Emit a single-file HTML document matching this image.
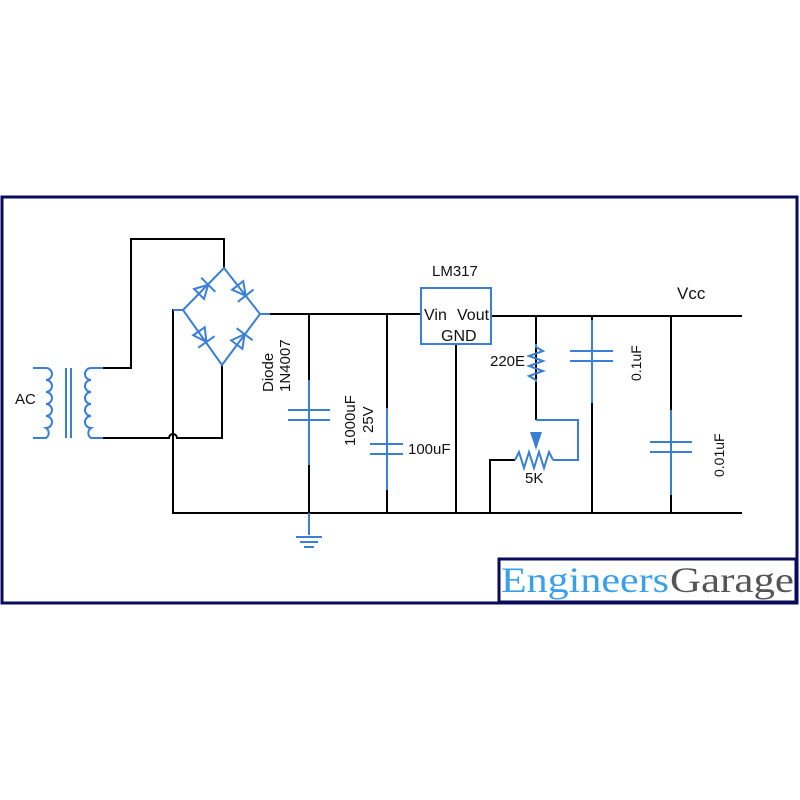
<!DOCTYPE html>
<html><head><meta charset="utf-8"><style>body{margin:0;background:#fff}svg{display:block}</style></head><body>
<svg width="800" height="800" viewBox="0 0 800 800" xmlns="http://www.w3.org/2000/svg" font-family="Liberation Sans, sans-serif">
<rect x="2" y="197" width="795" height="406" fill="none" stroke="#0a0a5a" stroke-width="3"/>
<g fill="none" stroke="#000" stroke-width="2">
<path d="M103 368H131V239H224V268"/>
<path d="M103 438H169A4 4 0 0 1 177 438H222V365"/>
<path d="M183 310H173V513H742"/>
<path d="M260 314H421"/>
<path d="M491 316H742"/>
<path d="M309 314V513"/><path d="M309 513V535"/>
<path d="M387 314V513"/>
<path d="M456 344V513"/>
<path d="M536 316V420"/>
<path d="M515 460H490V513"/>
<path d="M592 316V513"/>
<path d="M671 316V513"/>
</g>
<g fill="none" stroke="#3a7fd6" stroke-width="2">
<path d="M33 368H46a6 6 0 0 1 0 12a6 6 0 0 1 0 12a6 6 0 0 1 0 12a6 6 0 0 1 0 12a6 6 0 0 1 0 12a6 6 0 0 1 0 10H33"/>
<path d="M103 368H91a6 6 0 0 0 0 12a6 6 0 0 0 0 12a6 6 0 0 0 0 12a6 6 0 0 0 0 12a6 6 0 0 0 0 12a6 6 0 0 0 0 10H103"/>
<path d="M66 368V438M71 368V438"/>
<path d="M224 268L183 310L222 365L260 314Z"/>
<g transform="translate(204,289) rotate(-45)"><path d="M-7 -7L6 0L-7 7Z M6 -10V10"/></g>
<g transform="translate(242,291) rotate(52)"><path d="M-7 -7L6 0L-7 7Z M6 -10V10"/></g>
<g transform="translate(203,337) rotate(55)"><path d="M-7 -7L6 0L-7 7Z M6 -10V10"/></g>
<g transform="translate(241,339) rotate(-53)"><path d="M-7 -7L6 0L-7 7Z M6 -10V10"/></g>
<path d="M260 314H270M173 310H183"/>
<path d="M309 380V465M288 410H330M288 420H330"/>
<path d="M309 513V535M296 537H322M300 542H318M304 547H314"/>
<path d="M387 408V490M370 444H403M370 454H403"/>
<rect x="421" y="288" width="70" height="56"/>
<path d="M536 344V347l7 4-14 5 14 5-14 5 14 5-14 5 7 4V382"/>
<path d="M536 420H578V460H553"/>
<path d="M515 460l4-8 5 16 5-16 5 16 5-16 5 16 5-16 4 8"/>
<path d="M592 320V403M570 351H613M570 361H613"/>
<path d="M671 410V495M650 442H692M650 452H692"/>
</g>
<path d="M530 432H542L536 450Z" fill="#3a7fd6"/>
<g font-size="15" fill="#111">
<text x="15" y="404">AC</text>
<text x="432" y="276">LM317</text>
<text x="424" y="320" font-size="16">Vin</text>
<text x="457" y="320" font-size="16">Vout</text>
<text x="441" y="341" font-size="16">GND</text>
<text x="677" y="299" font-size="17">Vcc</text>
<text x="408" y="454">100uF</text>
<text x="490" y="366">220E</text>
<text x="525" y="483">5K</text>
<text transform="translate(273,392) rotate(-90)">Diode</text>
<text transform="translate(290,392) rotate(-90)">1N4007</text>
<text transform="translate(355,446) rotate(-90)">1000uF</text>
<text transform="translate(373,433) rotate(-90)">25V</text>
<text transform="translate(641,381) rotate(-90)" font-size="14">0.1uF</text>
<text transform="translate(724,477) rotate(-90)" font-size="14">0.01uF</text>
</g>
<rect x="499" y="559" width="297" height="43" fill="#fff" stroke="#0a0a5a" stroke-width="3"/>
<text x="501" y="592" font-family="Liberation Serif, serif" font-size="36" fill="#3aa0ea" textLength="168" lengthAdjust="spacingAndGlyphs">Engineers</text>
<text x="670" y="592" font-family="Liberation Serif, serif" font-size="36" fill="#555" textLength="124" lengthAdjust="spacingAndGlyphs">Garage</text>
</svg>
</body></html>
